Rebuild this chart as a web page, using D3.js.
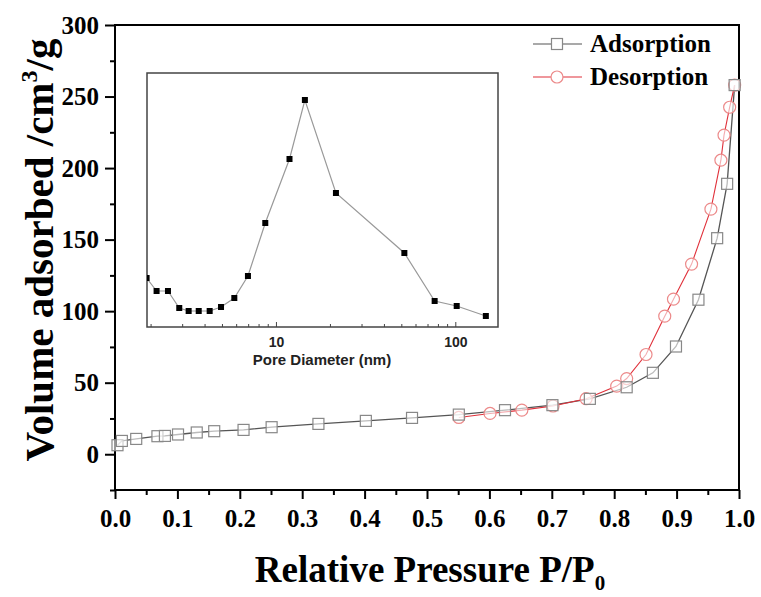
<!DOCTYPE html>
<html>
<head>
<meta charset="utf-8">
<script src="https://cdn.jsdelivr.net/npm/d3@7"></script>
<style>
  body { margin: 0; background: #fff; }
  svg { display: block; }
  .serif { font-family: "Liberation Serif", "Times New Roman", serif; font-weight: bold; }
  .sans { font-family: "Liberation Sans", Arial, sans-serif; font-weight: bold; }
</style>
</head>
<body>
<svg id="chart" width="761" height="597"></svg>
<script>
// isotherm, adsorption branch
var adsP = [0.004, 0.011, 0.034, 0.068, 0.080, 0.101, 0.131, 0.159, 0.206, 0.251, 0.326, 0.402,
            0.476, 0.551, 0.625, 0.701, 0.761, 0.820, 0.862, 0.899, 0.935, 0.965, 0.981, 0.993];
var adsV = [6.3, 9.3, 10.7, 12.6, 12.8, 13.8, 15.2, 16.1, 17.0, 18.9, 21.2, 23.3,
            25.4, 27.7, 30.8, 34.3, 38.7, 46.8, 56.9, 75.3, 108, 151, 189, 258];
// desorption branch
var desP = [0.993, 0.985, 0.976, 0.971, 0.955, 0.924, 0.895, 0.881, 0.851, 0.820, 0.804, 0.755, 0.702, 0.652, 0.601, 0.551];
var desV = [258, 242.5, 223, 205.5, 171.3, 132.9, 108.4, 96.5, 69.7, 52.9, 47.6, 38.8, 33.7, 30.8, 28.5, 25.7];

// pore size distribution (inset)
var poreD = [1.9, 2.16, 2.50, 2.89, 3.26, 3.71, 4.27, 4.94, 5.86, 6.98, 8.72, 11.9, 14.5, 21.6, 52.0, 76.7, 101.8, 148];
var poreV = [0.49, 0.36, 0.36, 0.19, 0.16, 0.16, 0.16, 0.20, 0.29, 0.51, 1.04, 1.68, 2.27, 1.34, 0.74, 0.26, 0.21, 0.11];

var xTicks = [0, 0.1, 0.2, 0.3, 0.4, 0.5, 0.6, 0.7, 0.8, 0.9, 1.0];
var yTicks = [0, 50, 100, 150, 200, 250, 300];
var insetTicks = [10, 100];
var seriesNames = ['Adsorption', 'Desorption'];

var svg = d3.select('#chart');

var x = d3.scaleLinear().domain([0, 1]).range([115, 739]);
var y = d3.scaleLinear().domain([-25, 300]).range([490, 25]);

var g = svg.append('g');

// minor ticks
g.append('g')
    .attr('transform', 'translate(0,490)')
    .call(d3.axisBottom(x).tickValues(d3.range(0.05, 1, 0.1)).tickSize(5).tickFormat(''))
    .call(function(a) { a.select('.domain').remove(); a.selectAll('line').attr('stroke-width', 2); });
g.append('g')
    .attr('transform', 'translate(115,0)')
    .call(d3.axisLeft(y).tickValues(d3.range(-25, 300, 50)).tickSize(5).tickFormat(''))
    .call(function(a) { a.select('.domain').remove(); a.selectAll('line').attr('stroke-width', 2); });

// major ticks
g.append('g')
    .attr('class', 'serif')
    .attr('transform', 'translate(0,490)')
    .call(d3.axisBottom(x).tickValues(xTicks).tickSize(9).tickPadding(10).tickFormat(d3.format('.1f')))
    .call(function(a) {
      a.select('.domain').remove();
      a.selectAll('line').attr('stroke-width', 2);
      a.selectAll('text').attr('font-size', 25).attr('font-family', null).attr('fill', '#000');
    });
g.append('g')
    .attr('class', 'serif')
    .attr('transform', 'translate(115,0)')
    .call(d3.axisLeft(y).tickValues(yTicks).tickSize(10).tickPadding(6))
    .call(function(a) {
      a.select('.domain').remove();
      a.selectAll('line').attr('stroke-width', 2);
      a.selectAll('text').attr('font-size', 25).attr('font-family', null).attr('fill', '#000');
    });

// frame
g.append('rect')
    .attr('x', x(0)).attr('y', y(300))
    .attr('width', x(1) - x(0)).attr('height', y(-25) - y(300))
    .attr('fill', 'none').attr('stroke', '#000').attr('stroke-width', 2);

// axis titles
var xt = g.append('text').attr('class', 'serif')
    .attr('x', 430).attr('y', 582).attr('text-anchor', 'middle').attr('font-size', 37)
    .text('Relative Pressure P/P');
xt.append('tspan').attr('font-size', 21).attr('dy', 8).text('0');

var yt = g.append('text').attr('class', 'serif')
    .attr('transform', 'translate(53,250) rotate(-90)')
    .attr('text-anchor', 'middle').attr('font-size', 41)
    .text('Volume adsorbed /cm');
yt.append('tspan').attr('font-size', 24).attr('dy', -16).text('3');
yt.append('tspan').attr('dy', 16).text('/g');

// data
var adsData = adsP.map(function(p, i) { return [p, adsV[i]]; });
var desData = desP.map(function(p, i) { return [p, desV[i]]; });
var line = d3.line().x(function(d) { return x(d[0]); }).y(function(d) { return y(d[1]); });

g.append('path').datum(adsData).attr('d', line)
    .attr('fill', 'none').attr('stroke', '#555').attr('stroke-width', 1.3);
g.append('path').datum(desData).attr('d', line)
    .attr('fill', 'none').attr('stroke', '#e0303a').attr('stroke-width', 1.1);

g.append('g').selectAll('circle').data(desData).enter().append('circle')
    .attr('cx', function(d) { return x(d[0]); })
    .attr('cy', function(d) { return y(d[1]); })
    .attr('r', 6)
    .attr('fill', '#fff').attr('fill-opacity', 0.6).attr('stroke', '#ec8a8a').attr('stroke-width', 1.2);
g.append('g').selectAll('rect').data(adsData).enter().append('rect')
    .attr('x', function(d) { return x(d[0]) - 5.5; })
    .attr('y', function(d) { return y(d[1]) - 5.5; })
    .attr('width', 11).attr('height', 11)
    .attr('fill', '#fff').attr('fill-opacity', 0.6).attr('stroke', '#888').attr('stroke-width', 1.2);

// legend
var legend = g.append('g').selectAll('g').data(seriesNames).enter().append('g')
    .attr('transform', function(d, i) { return 'translate(0,' + (44 + i * 33) + ')'; });
legend.append('line').attr('x1', 533).attr('x2', 582)
    .attr('stroke', function(d, i) { return i ? '#e0303a' : '#555'; }).attr('stroke-width', 1.2);
legend.each(function(d, i) {
  var s = d3.select(this);
  if (i) s.append('circle').attr('cx', 557).attr('r', 6).attr('fill', '#fff').attr('stroke', '#ec8a8a').attr('stroke-width', 1.2);
  else s.append('rect').attr('x', 551.5).attr('y', -5.5).attr('width', 11).attr('height', 11).attr('fill', '#fff').attr('stroke', '#888').attr('stroke-width', 1.2);
});
legend.append('text').attr('class', 'serif').attr('x', 590).attr('y', 8).attr('font-size', 25)
    .text(function(d) { return d; });

// inset
var xi = d3.scaleLog().domain([1.91, 173]).range([147, 498]);
var yi = d3.scaleLinear().domain([0, 2.54]).range([327, 73]);
var inset = svg.append('g');

inset.append('rect').attr('x', 147).attr('y', 73).attr('width', 351).attr('height', 254)
    .attr('fill', '#fff').attr('stroke', '#444').attr('stroke-width', 1.5);
inset.append('clipPath').attr('id', 'ic').append('rect')
    .attr('x', 147).attr('y', 73).attr('width', 351).attr('height', 254);

var minorD = [2, 3, 4, 5, 6, 7, 8, 9, 20, 30, 40, 50, 60, 70, 80, 90].filter(function(d) { return d >= 1.91; });
inset.append('g').attr('transform', 'translate(0,327)')
    .call(d3.axisTop(xi).tickValues(minorD).tickSize(3).tickFormat(''))
    .call(function(a) { a.select('.domain').remove(); a.selectAll('line').attr('stroke', '#444'); });
inset.append('g').attr('class', 'sans').attr('transform', 'translate(0,327)')
    .call(d3.axisTop(xi).tickValues(insetTicks).tickSize(5).tickFormat(d3.format('d')))
    .call(function(a) {
      a.select('.domain').remove();
      a.selectAll('line').attr('stroke', '#444');
      a.selectAll('text').attr('y', 20).attr('dy', 0).attr('font-size', 14).attr('font-family', null).attr('fill', '#222');
    });
inset.append('text').attr('class', 'sans').attr('x', 322).attr('y', 365)
    .attr('text-anchor', 'middle').attr('font-size', 15).attr('fill', '#222')
    .text('Pore Diameter (nm)');

var psd = poreD.map(function(d, i) { return [d, poreV[i]]; });
var pg = inset.append('g').attr('clip-path', 'url(#ic)');
pg.append('path').datum(psd)
    .attr('d', d3.line().x(function(d) { return xi(d[0]); }).y(function(d) { return yi(d[1]); }))
    .attr('fill', 'none').attr('stroke', '#999').attr('stroke-width', 1.2);
pg.selectAll('rect').data(psd).enter().append('rect')
    .attr('x', function(d) { return xi(d[0]) - 3; })
    .attr('y', function(d) { return yi(d[1]) - 3; })
    .attr('width', 6).attr('height', 6).attr('fill', '#000');
</script>
</body>
</html>
